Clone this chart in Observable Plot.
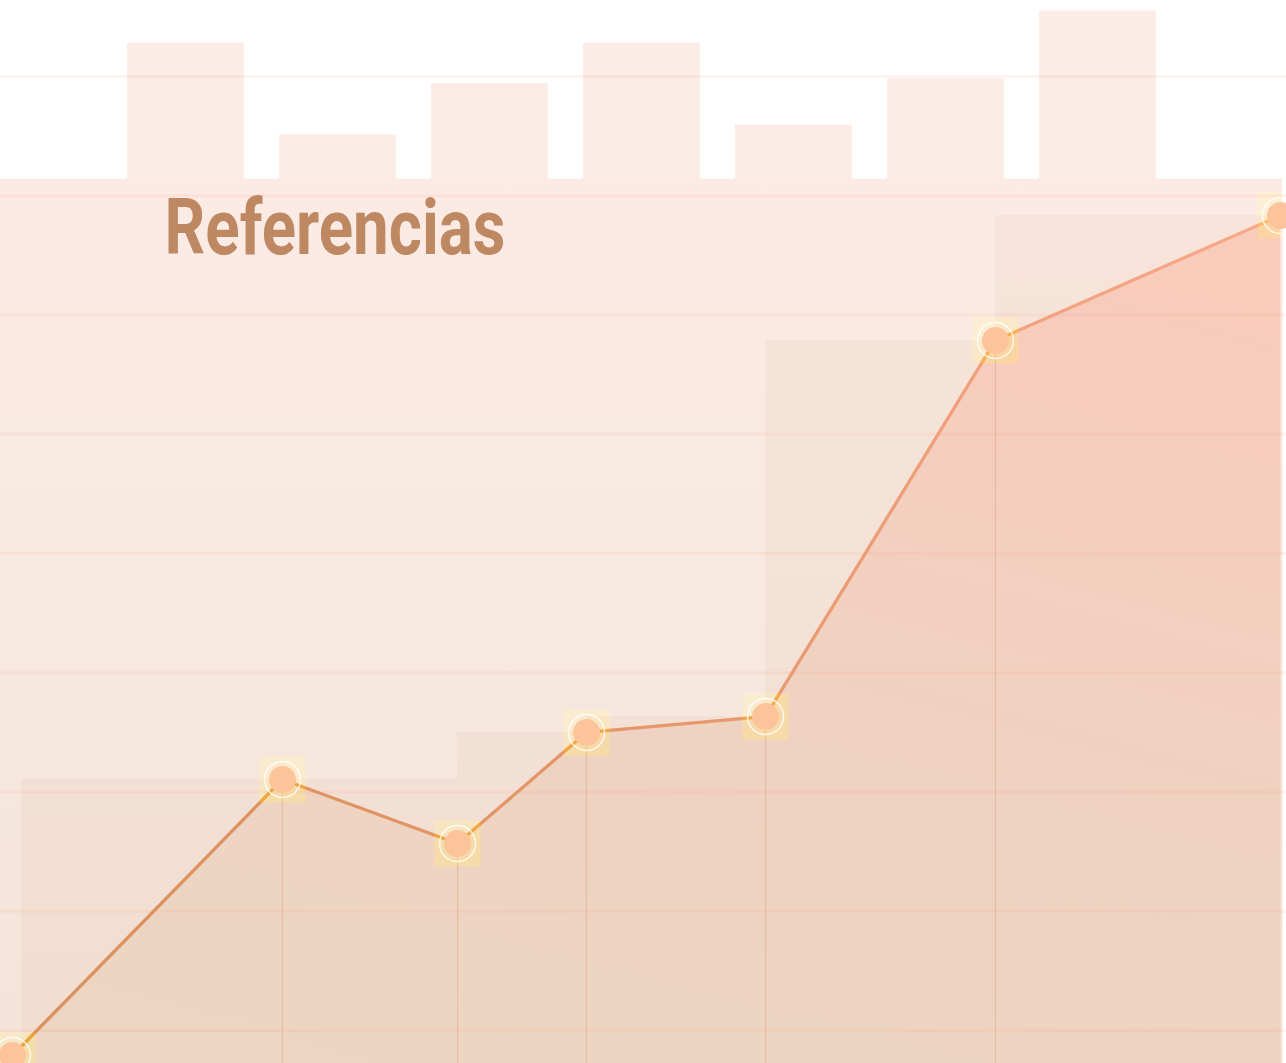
<!DOCTYPE html>
<html><head><meta charset="utf-8">
<script src="https://cdn.jsdelivr.net/npm/d3@7"></script>
<script src="https://cdn.jsdelivr.net/npm/@observablehq/plot@0.6"></script>
<style>
html,body{margin:0;padding:0;background:#fff;}
#chart{position:relative;width:1286px;height:1063px;overflow:hidden;}
#chart svg{position:absolute;left:0;top:0;}
</style></head><body><div id="chart"></div>
<script>
// ---- data ----
const title = "Referencias";
const barCategories = ["A", "B", "C", "D", "E", "F", "G"];
const barValues = [92.8, 85.1, 89.4, 92.8, 85.9, 89.8, 95.5];
const baseLevel = 81.4;
const baseExtent = [0, 99.7];
const lineX = [0.93, 21.93, 35.54, 45.57, 59.49, 77.37, 99.53];
const lineY = [7.9, 31.05, 25.68, 34.99, 36.33, 67.86, 78.34];
const bandStart = [1.63, 35.54, 45.57, 59.49, 77.37];
const bandEnd = [35.54, 45.57, 59.49, 77.37, 99.76];
const bandValue = [31.05, 34.99, 36.33, 67.86, 78.34];
const gridTicks = [10, 20, 30, 40, 50, 60, 70, 80, 90];
const xDomain = [0, 100];
const yDomain = [7.23, 96.37];

const W = 1286, H = 1063;
const bars = barCategories.map((c, i) => ({c, v: barValues[i]}));
const pts = lineX.map((x, i) => ({x, y: lineY[i]}));
const bands = bandStart.map((s, i) => ({x1: s, x2: bandEnd[i], y: bandValue[i]}));

function grad(defs, id, x1, y1, x2, y2, stops) {
  const g = defs.append("linearGradient").attr("id", id)
    .attr("x1", x1).attr("y1", y1).attr("x2", x2).attr("y2", y2);
  stops.forEach(([o, c]) => g.append("stop").attr("offset", o).attr("stop-color", c));
}
const defsMark = () => {
  const g = d3.create("svg:g");
  const d = g.append("defs");
  grad(d, "baseGrad", 0, 0, 0, 1, [[0, "#fcebe4"], [0.5, "#f7e9e0"], [1, "#f4e3d9"]]);
  grad(d, "areaGrad", 0.3, 1, 0.7, 0, [[0, "#edd5c2"], [0.45, "#efd2c1"], [1, "#f8cbbb"]]);
  grad(d, "lineGrad", 0, 0, 1, 0, [[0, "#d8915c"], [0.5, "#e6966a"], [1, "#f9a98b"]]);
  return g.node();
};

// background skyline bars
const bg = Plot.plot({
  width: W, height: H,
  marginTop: 0, marginBottom: 0, marginLeft: 126, marginRight: 129,
  style: {background: "#fff"},
  x: {type: "band", domain: barCategories, paddingInner: 0.232, paddingOuter: 0, axis: null},
  y: {domain: yDomain, axis: null},
  marks: [
    Plot.barY(bars, {x: "c", y1: yDomain[0], y2: "v", fill: "#fcece6"})
  ]
});

// main chart
const main = Plot.plot({
  width: W, height: H,
  margin: 0,
  style: {background: "transparent"},
  x: {domain: xDomain, axis: null},
  y: {domain: yDomain, axis: null},
  marks: [
    defsMark,
    Plot.rect([0], {x1: baseExtent[0], x2: baseExtent[1], y1: yDomain[0], y2: baseLevel, fill: "url(#baseGrad)"}),
    Plot.rect(bands, {x1: "x1", x2: "x2", y1: yDomain[0], y2: "y", fill: "#e4bd9f", fillOpacity: 0.15}),
    Plot.areaY(pts, {x: "x", y1: yDomain[0], y2: "y", fill: "url(#areaGrad)"}),
    Plot.ruleY(gridTicks, {stroke: "#fa9f86", strokeOpacity: 0.13, strokeWidth: 3}),
    Plot.ruleX(pts.slice(1, -1), {x: "x", y1: yDomain[0], y2: "y", stroke: "#dc9a7c", strokeOpacity: 0.4, strokeWidth: 1.2}),
    Plot.line(pts, {x: "x", y: "y", stroke: "url(#lineGrad)", strokeWidth: 3.3}),
    Plot.dot(pts, {x: "x", y: "y", symbol: "square", r: 26, fill: "#ffb830", fillOpacity: 0.85, stroke: null, ariaDescription: "squares"}),
    Plot.dot(pts, {x: "x", y: "y", r: 18, fill: "none", stroke: "#ffffff", strokeOpacity: 0.8, strokeWidth: 1.5}),
    Plot.dot(pts, {x: "x", y: "y", r: 13.5, fill: "#fdc49c", stroke: null}),
    Plot.text([title], {frameAnchor: "top-left", dx: 164, dy: 253, text: d => d, textAnchor: "start", lineAnchor: "bottom",
      fontSize: 78, fontWeight: 700, fontFamily: "Roboto", fill: "#be8862", ariaDescription: "title"})
  ]
});

const chart = document.getElementById("chart");
chart.appendChild(bg);
chart.appendChild(main);
d3.select(main).selectAll('g[aria-description="squares"]').style("mix-blend-mode", "soft-light");
d3.select(main).selectAll('g[aria-description="title"] text').attr("textLength", 341).attr("lengthAdjust", "spacingAndGlyphs");
</script></body></html>
